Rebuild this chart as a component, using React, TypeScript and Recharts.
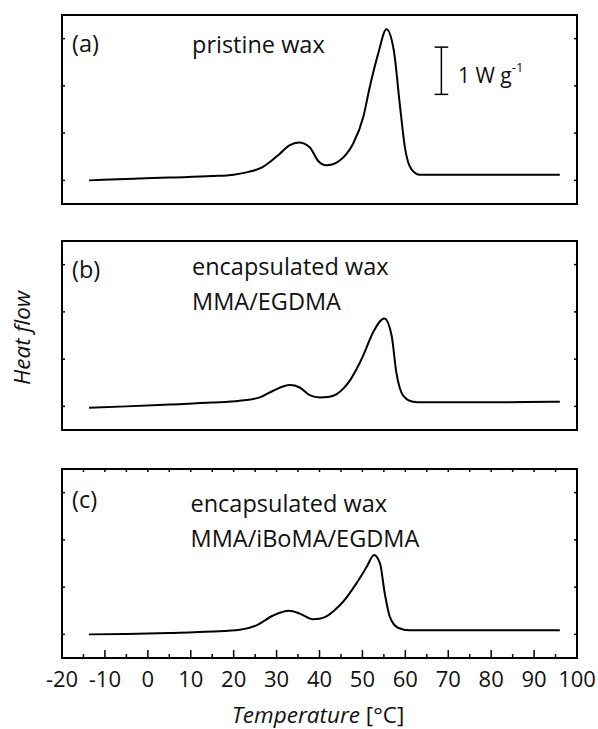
import { LineChart, Line, XAxis, YAxis, ReferenceArea, ReferenceLine } from 'recharts';

// temperature [°C] and heat flow [W/g]
const tempA = [-13.7, -5, 5, 15, 20, 23.5, 26.5, 28.6, 30.7, 33, 35.2, 37.7, 39.7, 41.6, 43.1, 44.7, 46.3, 47.8, 50.2, 51.7, 53.7, 55.6, 57.3, 58.7, 59.9, 61.4, 63.4, 75, 96];
const flowA = [0, 0.03, 0.06, 0.09, 0.12, 0.18, 0.27, 0.4, 0.56, 0.74, 0.8, 0.7, 0.41, 0.32, 0.34, 0.42, 0.56, 0.77, 1.34, 1.97, 2.69, 3.2, 2.76, 1.62, 0.7, 0.24, 0.12, 0.12, 0.12];

const tempB = [-13.7, -5, 5, 15, 21.4, 26.1, 29.2, 33.1, 35.4, 37.7, 40.1, 42.0, 44.0, 45.6, 47.1, 48.7, 50.2, 52.5, 55.1, 56.8, 57.9, 59.5, 61.8, 63.8, 88, 96];
const flowB = [-0.03, 0, 0.04, 0.08, 0.12, 0.19, 0.33, 0.45, 0.4, 0.24, 0.19, 0.2, 0.26, 0.38, 0.55, 0.8, 1.08, 1.57, 1.86, 1.5, 0.72, 0.23, 0.1, 0.085, 0.09, 0.1];

const tempC = [-13.7, -5, 5, 15, 21.4, 25.3, 29.2, 32.9, 35.4, 38.5, 40.0, 41.6, 43.5, 45.5, 48.6, 51.0, 52.7, 54.1, 55.2, 56.4, 58.3, 61.0, 96];
const flowC = [0, 0.01, 0.03, 0.06, 0.1, 0.19, 0.4, 0.5, 0.44, 0.32, 0.33, 0.38, 0.51, 0.69, 1.08, 1.43, 1.68, 1.5, 0.87, 0.37, 0.14, 0.085, 0.085];

const xTicks = [-20, -15, -10, -5, 0, 5, 10, 15, 20, 25, 30, 35, 40, 45, 50, 55, 60, 65, 70, 75, 80, 85, 90, 95, 100];
const yTicks = [0, 1, 2, 3];
const X_DOMAIN: [number, number] = [-20, 100];
const Y_DOMAIN: [number, number] = [-0.5, 3.5];

// scale bar: 1 W/g
const SCALE_X = 68.4;
const SCALE_Y0 = 1.82;
const SCALE_Y1 = 2.82;
const SCALE_CAP = 1.6;

const FONT = '"Open Sans", "Noto Sans", sans-serif';
const PLOT_W = 515;
const PLOT_H = 189;

const toRows = (t: number[], v: number[]) => t.map((temp, i) => ({ t: temp, hf: v[i] }));

function makeXTick(showLabels: boolean) {
  return ({ x, y, payload }: { x?: number; y?: number; payload?: { value: number } }) => {
    if (x == null || y == null || !payload) return null;
    const v = payload.value;
    const edge = v === X_DOMAIN[0] || v === X_DOMAIN[1];
    const major = v % 10 === 0;
    return (
      <g>
        {!edge && <line x1={x} x2={x} y1={y} y2={y - (major ? 8 : 4)} stroke="#000" strokeWidth={1.5} />}
        {!edge && <line x1={x} x2={x} y1={y - PLOT_H} y2={y - PLOT_H + 3} stroke="#000" strokeWidth={1.5} />}
        {showLabels && major && (
          <text x={x} y={y + 29} textAnchor="middle" fontFamily={FONT} fontSize={22} fill="#111">
            {String(v)}
          </text>
        )}
      </g>
    );
  };
}

const YTick = ({ x, y }: { x?: number; y?: number }) => {
  if (x == null || y == null) return null;
  return (
    <g>
      <line x1={x} x2={x + 3} y1={y} y2={y} stroke="#000" strokeWidth={1.5} />
      <line x1={x + PLOT_W} x2={x + PLOT_W - 3} y1={y} y2={y} stroke="#000" strokeWidth={1.5} />
    </g>
  );
};

function Panel({ rows, bottom, withScale }: { rows: { t: number; hf: number }[]; bottom: boolean; withScale?: boolean }) {
  const xAxisH = bottom ? 45 : 0;
  return (
    <LineChart
      width={598}
      height={15 + PLOT_H + xAxisH + 11}
      data={rows}
      margin={{ top: 15, right: 21, bottom: 11, left: 0 }}
    >
      <XAxis
        dataKey="t"
        type="number"
        domain={X_DOMAIN}
        ticks={xTicks}
        interval={0}
        allowDataOverflow
        height={xAxisH}
        tickSize={0}
        tickMargin={0}
        tickLine={false}
        axisLine={false}
        tick={makeXTick(bottom)}
      />
      <YAxis
        type="number"
        domain={Y_DOMAIN}
        ticks={yTicks}
        interval={0}
        allowDataOverflow
        width={62}
        tickSize={0}
        tickMargin={0}
        tickLine={false}
        axisLine={false}
        tick={YTick}
      />
      <ReferenceArea
        x1={X_DOMAIN[0]}
        x2={X_DOMAIN[1]}
        y1={Y_DOMAIN[0]}
        y2={Y_DOMAIN[1]}
        fill="none"
        stroke="#000"
        strokeWidth={2}
        fillOpacity={0}
      />
      {withScale && (
        <ReferenceLine segment={[{ x: SCALE_X, y: SCALE_Y0 }, { x: SCALE_X, y: SCALE_Y1 }]} stroke="#000" strokeWidth={1.5} />
      )}
      {withScale && (
        <ReferenceLine
          segment={[{ x: SCALE_X - SCALE_CAP, y: SCALE_Y0 }, { x: SCALE_X + SCALE_CAP, y: SCALE_Y0 }]}
          stroke="#000"
          strokeWidth={1.5}
        />
      )}
      {withScale && (
        <ReferenceLine
          segment={[{ x: SCALE_X - SCALE_CAP, y: SCALE_Y1 }, { x: SCALE_X + SCALE_CAP, y: SCALE_Y1 }]}
          stroke="#000"
          strokeWidth={1.5}
        />
      )}
      <Line dataKey="hf" type="monotone" stroke="#000" strokeWidth={2} dot={false} isAnimationActive={false} />
    </LineChart>
  );
}

export default function App() {
  const txt = { fontFamily: FONT, fontSize: 23.5, fill: '#111' };
  return (
    <div style={{ position: 'absolute', left: 0, top: 0, width: 598, height: 729, background: '#fff' }}>
      <div style={{ position: 'absolute', left: 0, top: 0 }}>
        <Panel rows={toRows(tempA, flowA)} bottom={false} withScale />
      </div>
      <div style={{ position: 'absolute', left: 0, top: 226 }}>
        <Panel rows={toRows(tempB, flowB)} bottom={false} />
      </div>
      <div style={{ position: 'absolute', left: 0, top: 454 }}>
        <Panel rows={toRows(tempC, flowC)} bottom />
      </div>
      <svg width={598} height={729} style={{ position: 'absolute', left: 0, top: 0, pointerEvents: 'none' }}>
        <text x={72} y={52} {...txt}>(a)</text>
        <text x={192} y={52.5} {...txt}>pristine wax</text>
        <text x={458} y={83} {...txt} fontSize={21}>
          1 W g<tspan fontSize={13} dy={-11}>-1</tspan>
        </text>

        <text x={72} y={277.5} {...txt}>(b)</text>
        <text x={192} y={275} {...txt}>encapsulated wax</text>
        <text x={192} y={310} {...txt}>MMA/EGDMA</text>

        <text x={72} y={508} {...txt}>(c)</text>
        <text x={190.5} y={511.5} {...txt}>encapsulated wax</text>
        <text x={190.5} y={546.5} {...txt}>MMA/iBoMA/EGDMA</text>

        <text x={318} y={723} textAnchor="middle" {...txt} fontSize={22.5}>
          <tspan fontStyle="italic">Temperature</tspan> [°C]
        </text>
        <text transform="translate(30,338) rotate(-90)" textAnchor="middle" {...txt} fontSize={22.5} fontStyle="italic">
          Heat flow
        </text>
      </svg>
    </div>
  );
}
